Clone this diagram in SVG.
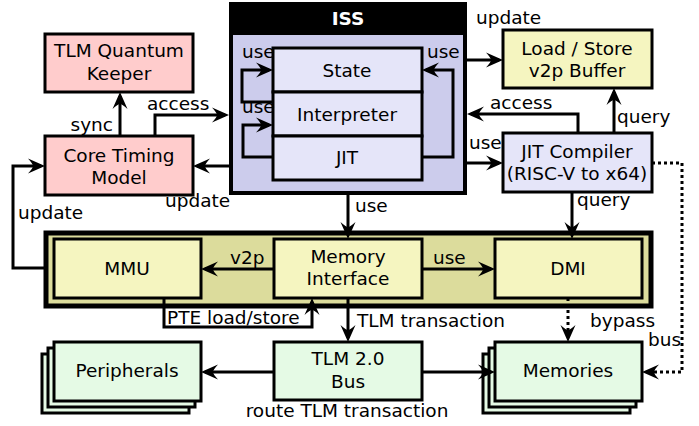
<svg xmlns="http://www.w3.org/2000/svg" width="699" height="426" viewBox="0 0 699 426">
<defs>
<style>
text{font-family:"DejaVu Sans","Liberation Sans",sans-serif;font-size:18.5px;fill:#000}
.c{text-anchor:middle}
.box{stroke:#000;stroke-width:3}
.pink{fill:#ffcccc}
.yel{fill:#f5f5c0}
.pur{fill:#e5e5f9}
.grn{fill:#e5fae5}
.ln{fill:none;stroke:#000;stroke-width:3}
.dot{fill:none;stroke:#000;stroke-width:3;stroke-dasharray:3,3}
.arr{marker-end:url(#ah)}
</style>
<marker id="ah" markerUnits="userSpaceOnUse" markerWidth="24" markerHeight="20" viewBox="-14 -10 20 20" refX="0" refY="0" orient="auto">
<path d="M4,0 L-13,-7.5 Q-8,-2 -8,0 Q-8,2 -13,7.5 Z" fill="#000"/>
</marker>
</defs>
<rect width="699" height="426" fill="#fff"/>

<g id="iss">
<rect x="231" y="4" width="234" height="189" fill="#ccccec" stroke="#000" stroke-width="4"/>
<rect x="229" y="2" width="238" height="33" fill="#000"/>
<text class="c" x="348" y="25" style="fill:#fff;font-weight:bold">ISS</text>
</g>
<g id="state">
<rect class="box pur" x="273" y="48" width="149" height="44"/>
<text class="c" x="347" y="77">State</text>
</g>
<g id="interpreter">
<rect class="box pur" x="273" y="92" width="149" height="44"/>
<text class="c" x="347" y="121">Interpreter</text>
</g>
<g id="jit">
<rect class="box pur" x="273" y="136" width="149" height="44"/>
<text class="c" x="347" y="164">JIT</text>
</g>

<g id="quantum-keeper">
<rect class="box pink" x="45" y="34" width="148" height="58"/>
<text class="c" x="119" y="57">TLM Quantum</text>
<text class="c" x="119" y="80">Keeper</text>
</g>
<g id="core-timing">
<rect class="box pink" x="45" y="136" width="148" height="59"/>
<text class="c" x="119" y="162">Core Timing</text>
<text class="c" x="119" y="184">Model</text>
</g>
<g id="ls-buffer">
<rect class="box yel" x="503" y="30" width="149" height="58"/>
<text class="c" x="577" y="55">Load / Store</text>
<text class="c" x="577" y="77">v2p Buffer</text>
</g>
<g id="jit-compiler">
<rect class="box pur" x="503" y="133" width="149" height="59"/>
<text class="c" x="577" y="158">JIT Compiler</text>
<text class="c" x="577" y="180">(RISC-V to x64)</text>
</g>

<g id="memory-subsystem">
<rect x="46" y="233" width="605" height="73" fill="#dcdc9c" stroke="#000" stroke-width="5"/>
</g>
<g id="mmu">
<rect class="box yel" x="54" y="239" width="147" height="59"/>
<text class="c" x="127" y="275">MMU</text>
</g>
<g id="memory-interface">
<rect class="box yel" x="274" y="239" width="148" height="59"/>
<text class="c" x="348" y="263">Memory</text>
<text class="c" x="348" y="285">Interface</text>
</g>
<g id="dmi">
<rect class="box yel" x="495" y="239" width="147" height="59"/>
<text class="c" x="568" y="275">DMI</text>
</g>

<g id="peripherals">
<rect class="box grn" x="42" y="354" width="147" height="59"/>
<rect class="box grn" x="48" y="348" width="147" height="59"/>
<rect class="box grn" x="54" y="342" width="147" height="59"/>
<text class="c" x="127" y="377">Peripherals</text>
</g>
<g id="tlm-bus">
<rect class="box grn" x="274" y="342" width="148" height="58"/>
<text class="c" x="348" y="365">TLM 2.0</text>
<text class="c" x="348" y="388">Bus</text>
</g>
<g id="memories">
<rect class="box grn" x="483" y="354" width="147" height="59"/>
<rect class="box grn" x="489" y="348" width="147" height="59"/>
<rect class="box grn" x="495" y="342" width="147" height="59"/>
<text class="c" x="568" y="377">Memories</text>
</g>

<g id="connectors">
<path class="ln arr" d="M120,136 V96"/>
<path class="ln arr" d="M155,136 V115 H225"/>
<path class="ln arr" d="M229,166 H197"/>
<path class="ln arr" d="M44,268 H13 V166 H41"/>
<path class="ln arr" d="M273,102 H242 V70 H269"/>
<path class="ln arr" d="M273,157 H243 V125 H269"/>
<path class="ln arr" d="M422,157 H453 V70 H426"/>
<path class="ln arr" d="M467,60 H499"/>
<path class="ln arr" d="M578,133 V114 H471"/>
<path class="ln arr" d="M614,133 V92"/>
<path class="ln arr" d="M467,163 H499"/>
<path class="ln arr" d="M572,192 V235"/>
<path class="ln arr" d="M348,195 V235"/>
<path class="ln arr" d="M274,269 H205"/>
<path class="ln arr" d="M422,269 H491"/>
<path class="ln arr" d="M164,298 V327 H312 V302"/>
<path class="ln arr" d="M348,298 V338"/>
<path class="ln arr" d="M274,372 H205"/>
<path class="ln arr" d="M422,372 H491"/>
<path class="dot arr" d="M568,298 V338"/>
<path class="dot arr" d="M652,163 H682 V372 H646"/>

<text x="113" y="131" text-anchor="end">sync</text>
<text x="147" y="110">access</text>
<text x="165" y="207">update</text>
<text x="18" y="219">update</text>
<text x="242" y="58">use</text>
<text x="242" y="113">use</text>
<text x="427" y="58">use</text>
<text x="476" y="24">update</text>
<text x="490" y="109">access</text>
<text x="617" y="123">query</text>
<text x="469" y="149">use</text>
<text x="577" y="206">query</text>
<text x="355" y="212">use</text>
<text x="230" y="264">v2p</text>
<text x="433" y="264">use</text>
<text x="167" y="324">PTE load/store</text>
<text x="357" y="327">TLM transaction</text>
<text x="590" y="327">bypass</text>
<text x="648" y="346">bus</text>
<text class="c" x="347" y="417">route TLM transaction</text>
</g>
</svg>
